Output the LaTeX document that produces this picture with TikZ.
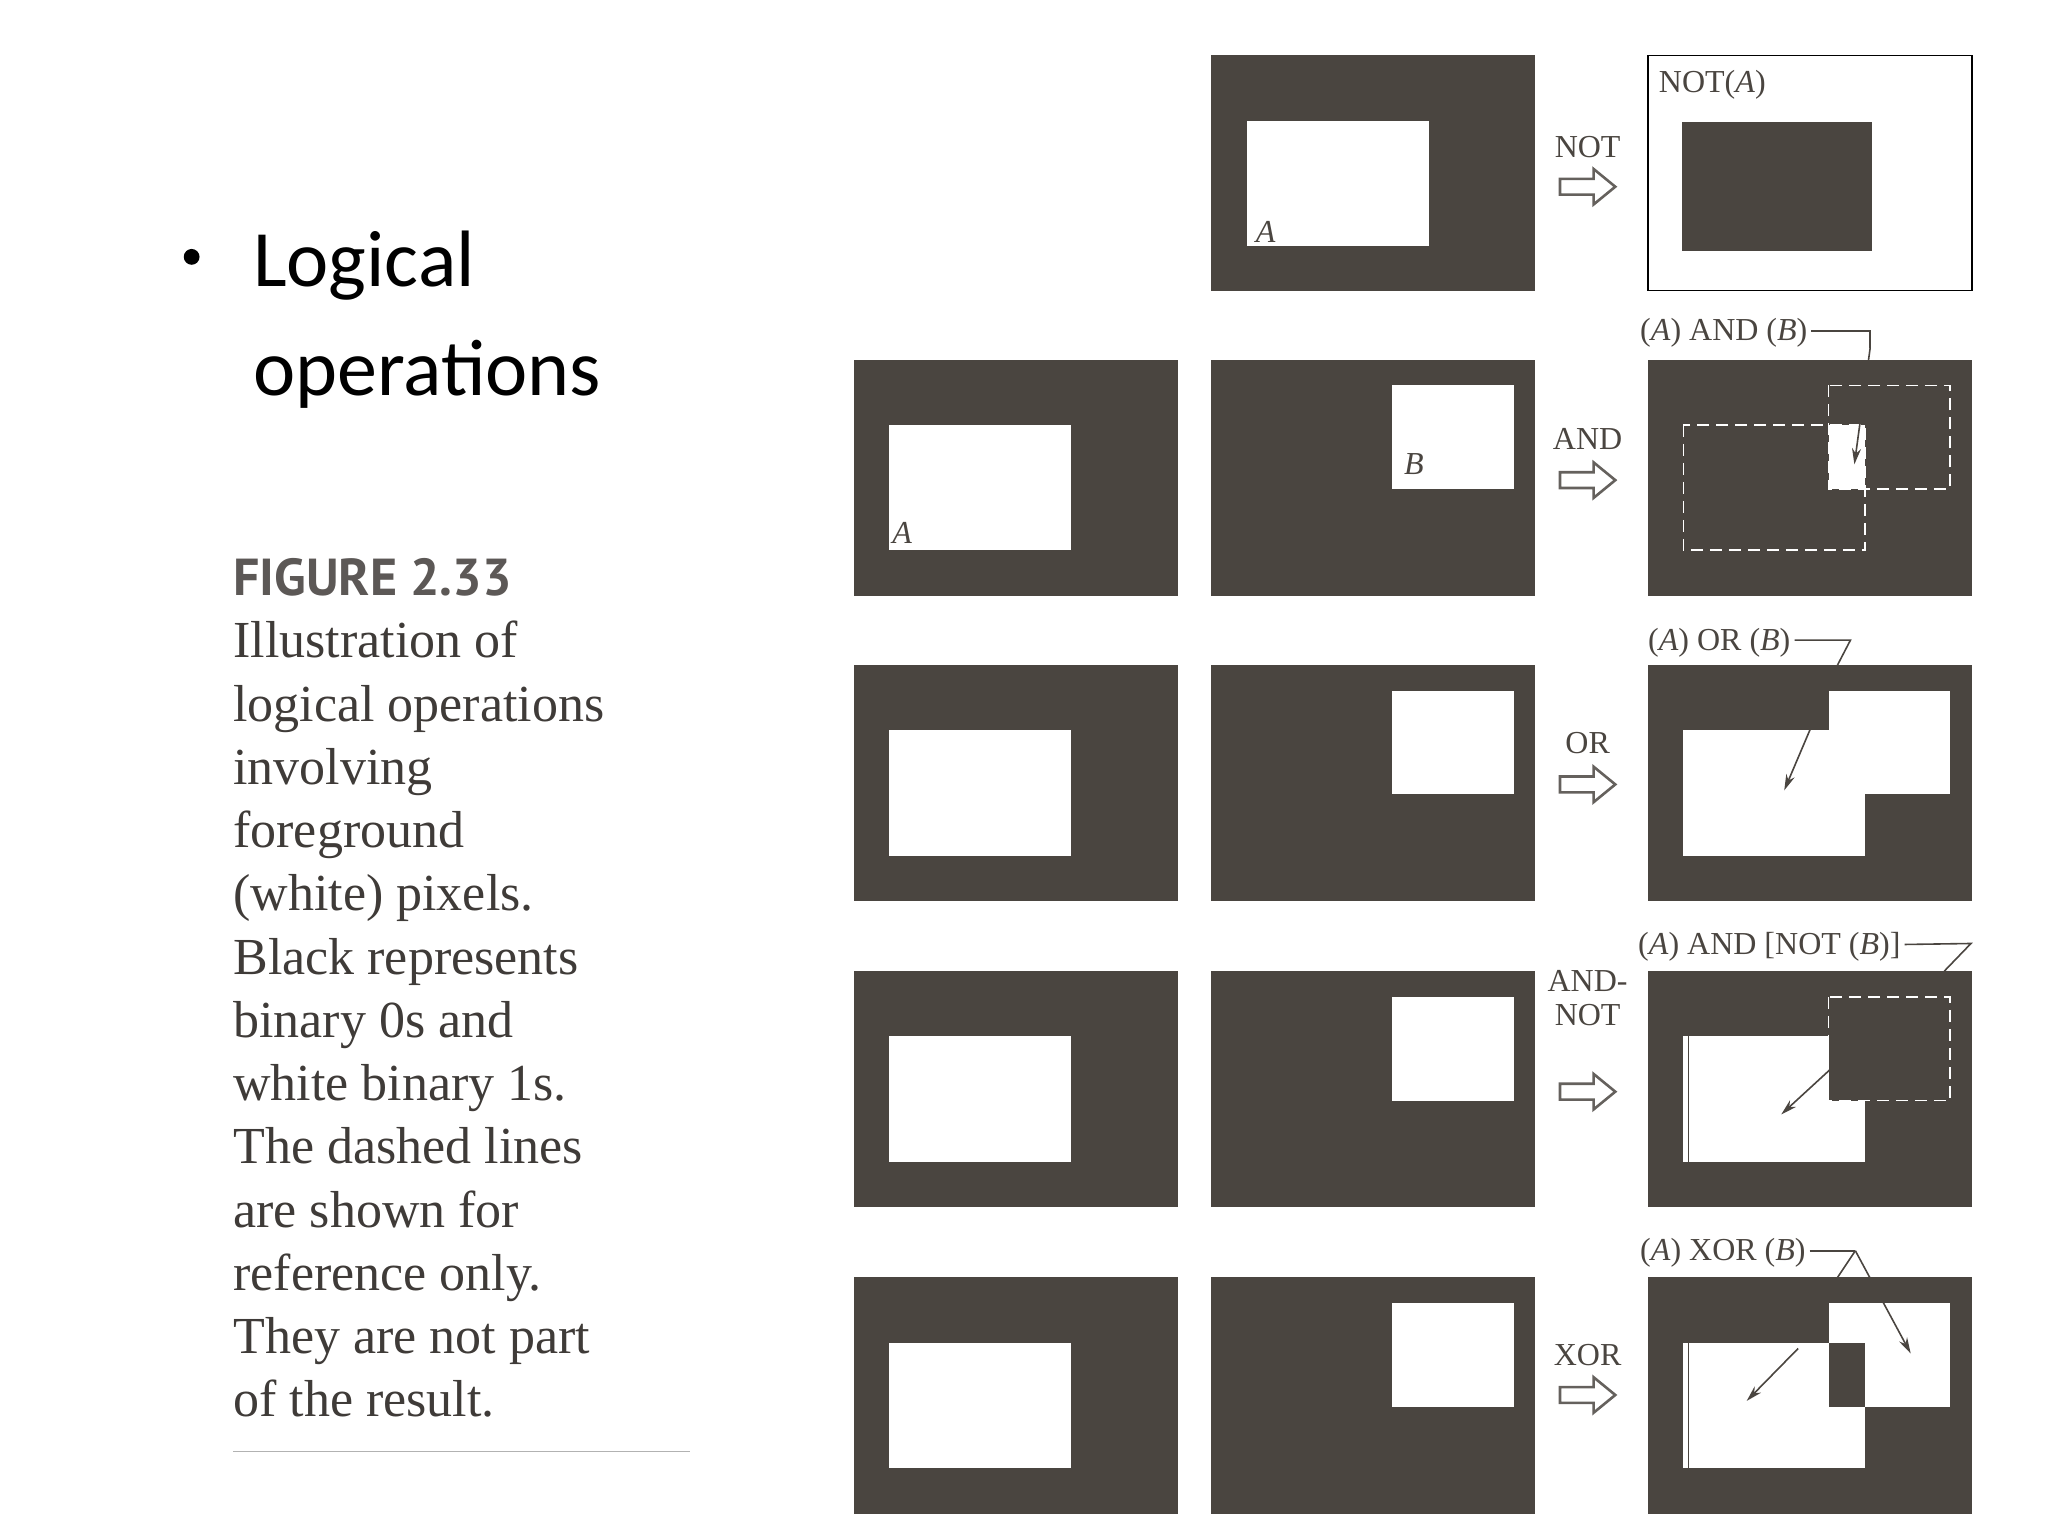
\documentclass[tikz,border=0pt]{standalone}
\usepackage{fontspec}
\setmainfont{Liberation Serif}
\newfontfamily\calfont{Carlito}
\newfontfamily\figfont{PT Sans}
\usetikzlibrary{arrows.meta}
\definecolor{dk}{HTML}{4A4540}
\definecolor{cap}{HTML}{3F3B38}
\tikzset{
 wh/.style={fill=white,draw=none},
 dsh/.style={draw=white,line width=1.6pt,dash pattern=on 12pt off 7pt},
 lab/.style={font=\fontsize{32}{32}\selectfont,inner sep=0pt,text=dk},
 capline/.style={anchor=base west,inner sep=0pt,text=cap,font=\fontsize{52}{52}\selectfont},
 hook/.style={draw=dk,line width=1.6pt},
 blk/.style={draw=dk!85,line width=2.6pt,fill=white,line join=miter},
 tip/.style={-{Stealth[length=16pt,width=9pt]}}
}
\newcommand\Arect[2]{\fill[white] (#1+36,#2+66) rectangle (#1+220,#2+193);}
\newcommand\Brect[2]{\fill[white] (#1+183,#2+26) rectangle (#1+306,#2+131);}
\newcommand\blockarrow[2]{\draw[blk] (#1-28,#2-8) -- (#1+6,#2-8) -- (#1+6,#2-18) -- (#1+28,#2) -- (#1+6,#2+18) -- (#1+6,#2+8) -- (#1-28,#2+8) -- cycle;}
\newcommand\pnl[2]{\fill[dk] (#1,#2) rectangle (#1+328,#2+239);}
\begin{document}
\begin{tikzpicture}[x=0.988pt,y=-0.988pt]
\useasboundingbox (0,0) rectangle (2073,1555);
% left text
\node[anchor=base west,inner sep=0pt,font=\calfont\fontsize{80}{80}\selectfont] (t1) at (256,290) {Logical};
\node[anchor=base west,inner sep=0pt,font=\calfont\fontsize{80}{80}\selectfont] (t2) at (256,400) {operations};
\fill (194,260) circle (8);
\node[anchor=base west,inner sep=0pt,text=cap!85,font=\figfont\bfseries\fontsize{52}{52}\selectfont] (fig) at (236,603) {FIGURE 2.33};
\node[capline] (c1) at (236,666) {Illustration of};
\node[capline] (c2) at (236,730) {logical operations};
\node[capline] (c3) at (236,794) {involving};
\node[capline] (c4) at (236,858) {foreground};
\node[capline] (c5) at (236,922) {(white) pixels.};
\node[capline] (c6) at (236,986) {Black represents};
\node[capline] (c7) at (236,1050) {binary 0s and};
\node[capline] (c8) at (236,1114) {white binary 1s.};
\node[capline] (c9) at (236,1178) {The dashed lines};
\node[capline] (c10) at (236,1242) {are shown for};
\node[capline] (c11) at (236,1306) {reference only.};
\node[capline] (c12) at (236,1370) {They are not part};
\node[capline] (c13) at (236,1434) {of the result.};
\draw[gray!60,line width=1.5pt] (236,1469) -- (698,1469);
% row 1 NOT
\pnl{1226}{56}
\Arect{1226}{56}
\node[lab,anchor=base west] (la) at (1271,245) {\itshape A};
\draw[black,line width=1.2pt,fill=white] (1668,56) rectangle (1996,294);
\fill[dk] (1668+35,56+67) rectangle (1668+227,56+198);
\node[lab,anchor=base west] (nota) at (1679,94) {NOT(\textit{A})};
\node[lab,anchor=base] (op1) at (1607,159) {NOT};
\blockarrow{1607}{189}
% row 2 AND
\pnl{864}{364}\Arect{864}{364}
\node[lab,anchor=base west] (la2) at (903,550) {\itshape A};
\pnl{1226}{364}\Brect{1226}{364}
\node[lab,anchor=base west] (lb2) at (1421,480) {\itshape B};
\node[lab,anchor=base] (op2) at (1607,455) {AND};
\blockarrow{1607}{486}
\pnl{1668}{364}
\fill[white] (1668+183,364+66) rectangle (1668+220,364+131);
\draw[dsh] (1668+36,364+66) rectangle (1668+220,364+193);
\draw[dsh] (1668+183,364+26) rectangle (1668+306,364+131);
\node[lab,anchor=base west] (r2) at (1660,345) {(\textit{A}) AND (\textit{B})};
\draw[hook] (r2.base east)++(4,-10) -- (1893,335) -- (1893,352);
\draw[hook,tip] (1893,352) -- (1877,470);
% row 3 OR
\pnl{864}{673}\Arect{864}{673}
\pnl{1226}{673}\Brect{1226}{673}
\node[lab,anchor=base] (op3) at (1607,763) {OR};
\blockarrow{1607}{794}
\pnl{1668}{673}\Arect{1668}{673}\Brect{1668}{673}
\node[lab,anchor=base west] (r3) at (1668,658) {(\textit{A}) OR (\textit{B})};
\draw[hook] (r3.base east)++(4,-10) -- (1873,648) -- (1860,673);
\draw[hook,tip] (1860,673) -- (1806,800);
% row 4 AND-NOT
\pnl{864}{983}\Arect{864}{983}
\pnl{1226}{983}\Brect{1226}{983}
\node[lab,anchor=base,align=center,font=\fontsize{32}{34}\selectfont] (op4) at (1607,1038) {AND-\\NOT};
\blockarrow{1607}{1105}
\pnl{1668}{983}\Arect{1668}{983}
\draw[dk,line width=1.5pt] (1668+41,983+66) -- (1668+41,983+193);
\fill[dk] (1668+183,983+26) rectangle (1668+306,983+131);
\draw[dsh] (1668+183,983+26) rectangle (1668+306,983+131);
\node[lab,anchor=base west] (r4) at (1658,966) {(\textit{A}) AND [NOT (\textit{B})]};
\draw[hook] (r4.base east)++(4,-10) -- (1995,955) -- (1968,983);
\draw[hook,tip] (1852,1083) -- (1803,1128);
% row 5 XOR
\pnl{864}{1293}\Arect{864}{1293}
\pnl{1226}{1293}\Brect{1226}{1293}
\node[lab,anchor=base] (op5) at (1607,1382) {XOR};
\blockarrow{1607}{1412}
\pnl{1668}{1293}\Arect{1668}{1293}\Brect{1668}{1293}
\fill[dk] (1668+183,1293+66) rectangle (1668+220,1293+131);
\draw[dk,line width=1.5pt] (1668+41,1293+66) -- (1668+41,1293+193);
\node[lab,anchor=base west] (r5) at (1660,1276) {(\textit{A}) XOR (\textit{B})};
\coordinate (j5) at (1878,1266);
\draw[hook] (r5.base east)++(4,-10) -- (j5);
\draw[hook] (j5) -- (1860,1293);
\draw[hook,tip] (j5) -- (1934,1370);
\draw[hook,tip] (1820,1365) -- (1768,1418);
\end{tikzpicture}
\end{document}
